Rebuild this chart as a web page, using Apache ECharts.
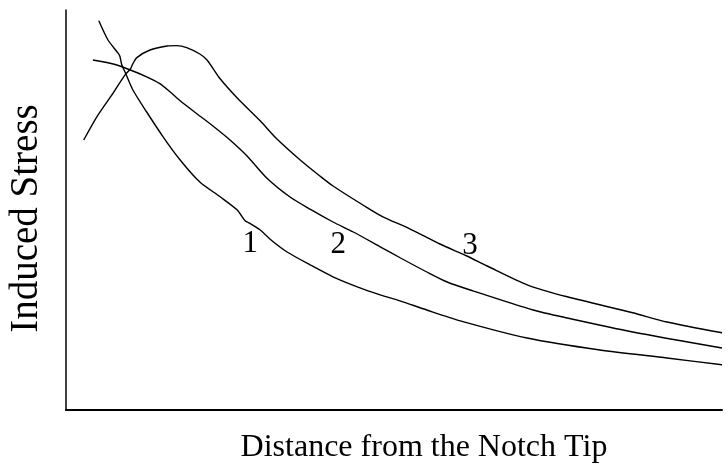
<!DOCTYPE html>
<html>
<head>
<meta charset="utf-8">
<script src="https://cdn.jsdelivr.net/npm/echarts@6/dist/echarts.min.js"></script>
<style>
  html, body { margin: 0; padding: 0; background: #fff; }
  #chart { width: 728px; height: 471px; }
</style>
</head>
<body>
<div id="chart"></div>
<script>
// curve values, [distance, stress] in arbitrary units
var curve1 = [
    [5.0, 97.3], [6.4, 92.5], [7.8, 89.5], [8.2, 88.5], [8.5, 86.3], [9.0, 84.5],
    [10.2, 80], [12.3, 74.5], [14.8, 68.3], [17.4, 62.5], [20.4, 57], [23.5, 53.3],
    [26.1, 50], [27.3, 47.3], [27.9, 46.8], [29.6, 45], [31.4, 42.3], [33.7, 39.5],
    [37.2, 36.3], [40.7, 33.3], [44.4, 30.8], [47.9, 28.8], [50.9, 27.3], [55.0, 25],
    [60.1, 22.3], [70.3, 18], [81.4, 15], [91.6, 13], [100, 11.3]
];
var curve2 = [
    [4.1, 87.5], [7.2, 86.5], [9.8, 85], [12.3, 83.3], [14.3, 81.6], [15.9, 79.5],
    [17.4, 77.3], [20.0, 74], [22.4, 71], [25.0, 67.5], [27.6, 63.5], [30.6, 58],
    [34.1, 53.3], [37.2, 50.2], [40.7, 47], [43.8, 44.5], [47.9, 40.8],
    [51.0, 38], [55.0, 34.5], [58.1, 32], [62.0, 29.8], [71.2, 25], [76.4, 23],
    [86.4, 19.5], [100, 15.5]
];
var curve3 = [
    [2.7, 67.5], [4.7, 73.3], [7.2, 79.3], [9.0, 83.8], [9.8, 85.2], [10.2, 86.6],
    [10.8, 88.1], [12.8, 90], [15.4, 91], [16.9, 91.1], [18.4, 90.6], [20.4, 89],
    [21.5, 87.5], [23.5, 82.8], [26.1, 78], [29.6, 72.3], [32.0, 68], [35.7, 62.5],
    [38.7, 58.5], [40.7, 56], [45.9, 50.6], [48.3, 48.3], [52.4, 45.3], [57.0, 41.5],
    [61.1, 38.5], [64.2, 36], [70.3, 31.3], [76.4, 28.3], [86.4, 24.3], [91.6, 22],
    [100, 19.3]
];
var curveNames = ['1', '2', '3'];
var labelAt = [[28.1, 41.5], [41.5, 41.3], [61.6, 41]];

var chart = echarts.init(document.getElementById('chart'));
var serif = 'Liberation Serif, Times New Roman, serif';

function line(name, data, pos) {
    return {
        name: name,
        type: 'line',
        data: data,
        smooth: 0.25,
        symbol: 'none',
        lineStyle: {color: '#000', width: 1.4},
        markPoint: {
            symbol: 'circle',
            symbolSize: 1,
            silent: true,
            itemStyle: {color: 'rgba(0,0,0,0)'},
            label: {show: true, position: 'inside', formatter: name, color: '#000', fontFamily: serif, fontSize: 31},
            data: [{coord: pos}]
        }
    };
}

var option = {
    animation: false,
    backgroundColor: '#fff',
    grid: {left: 66, right: 6, top: 10, bottom: 61, outerBoundsMode: 'none', containLabel: false},
    xAxis: {
        type: 'value', min: 0, max: 100,
        name: 'Distance from the Notch Tip',
        nameLocation: 'middle', nameGap: 22,
        nameTextStyle: {color: '#000', fontFamily: serif, fontSize: 32, padding: [0, 0, 0, 60]},
        axisLine: {show: true, lineStyle: {color: '#000', width: 2}},
        axisTick: {show: false}, axisLabel: {show: false}, splitLine: {show: false}
    },
    yAxis: {
        type: 'value', min: 0, max: 100,
        name: 'Induced Stress',
        nameLocation: 'middle', nameGap: 20,
        nameTextStyle: {color: '#000', fontFamily: serif, fontSize: 39, padding: [0, 17, 0, 0]},
        axisLine: {show: true, lineStyle: {color: '#000', width: 1.5}},
        axisTick: {show: false}, axisLabel: {show: false}, splitLine: {show: false}
    },
    series: [
        line(curveNames[0], curve1, labelAt[0]),
        line(curveNames[1], curve2, labelAt[1]),
        line(curveNames[2], curve3, labelAt[2])
    ]
};
chart.setOption(option);
</script>
</body>
</html>
